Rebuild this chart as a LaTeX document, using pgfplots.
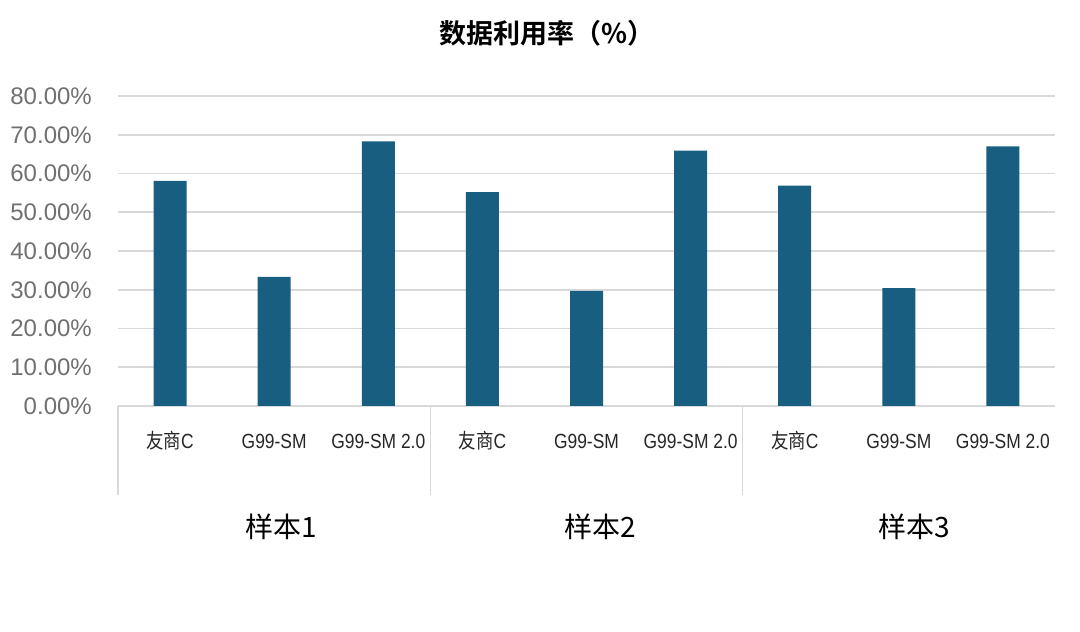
\documentclass[border=0pt]{standalone}
\usepackage{pgfplots}
\pgfplotsset{compat=1.18}
\usepackage{fontspec}
\setmainfont{Liberation Sans}
\newfontfamily\cjk{Noto Sans CJK SC}[BoldFont={Noto Sans CJK SC Bold}]
\newfontfamily\catfont{Liberation Sans}[FakeStretch=0.85]
\newfontfamily\catcjk{Noto Sans CJK SC}[FakeStretch=0.85]
\definecolor{barblue}{RGB}{23,94,128}
\definecolor{gridgray}{RGB}{217,217,217}
\definecolor{tickgray}{RGB}{112,112,112}
\begin{document}
\begin{tikzpicture}
\path[use as bounding box] (0,0) rectangle (1080pt,632pt);
\begin{axis}[
  at={(118pt,226pt)}, anchor=south west,
  scale only axis,
  width=937pt, height=310pt,
  xmin=-0.5, xmax=8.5,
  ymin=0, ymax=80,
  ybar, bar width=33pt, bar shift=0pt,
  axis line style={draw=none},
  major tick length=0pt,
  ymajorgrids,
  grid style={gridgray, line width=1.6pt},
  ytick={0,10,...,80},
  yticklabels={0.00\%,10.00\%,20.00\%,30.00\%,40.00\%,50.00\%,60.00\%,70.00\%,80.00\%},
  yticklabel style={inner sep=0pt, anchor=east, xshift=-26pt, text=tickgray,
    font=\fontsize{24}{28}\selectfont},
  xtick={0,...,8},
  xticklabels={{\catcjk 友商}C,G99-SM,G99-SM 2.0,{\catcjk 友商}C,G99-SM,G99-SM 2.0,{\catcjk 友商}C,G99-SM,G99-SM 2.0},
  xticklabel style={inner sep=0pt, anchor=center, yshift=-35pt, text=black!85,
    font=\catfont\fontsize{20.5}{24}\selectfont},
  clip=false,
]
\addplot[fill=barblue, draw=none] coordinates {
  (0,58.1) (1,33.3) (2,68.3)
  (3,55.2) (4,29.7) (5,65.9)
  (6,56.9) (7,30.4) (8,67.0)
};
\draw[gridgray, line width=1.2pt] (axis cs:-0.5,0) -- ++(0pt,-89pt);
\draw[gridgray, line width=1.2pt] (axis cs:2.5,0) -- ++(0pt,-89pt);
\draw[gridgray, line width=1.2pt] (axis cs:5.5,0) -- ++(0pt,-89pt);
\end{axis}
\node[font=\cjk\bfseries\fontsize{27}{31}\selectfont] at (547pt,599pt) {数据利用率（\%）};
\node[font=\cjk\fontsize{28}{32}\selectfont] at (281pt,105pt) {样本1};
\node[font=\cjk\fontsize{28}{32}\selectfont] at (600pt,105pt) {样本2};
\node[font=\cjk\fontsize{28}{32}\selectfont] at (914pt,105pt) {样本3};
\end{tikzpicture}
\end{document}
